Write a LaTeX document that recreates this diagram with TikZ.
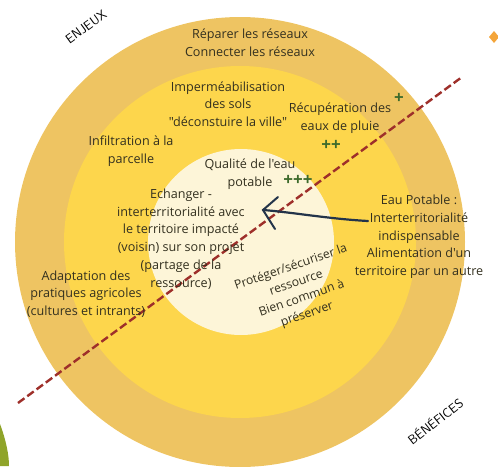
\documentclass[tikz,border=0pt]{standalone}
\usepackage{fontspec}
\setmainfont{Open Sans}[Ligatures=TeXOff]
\usepackage{xcolor}
\definecolor{ringout}{HTML}{EEC462}
\definecolor{ringmid}{HTML}{FDD64C}
\definecolor{ringin}{HTML}{FDF5D8}
\definecolor{inkbrown}{HTML}{33301F}
\definecolor{plusgreen}{HTML}{3E6B2C}
\definecolor{divred}{HTML}{9E2F2A}
\definecolor{arrowink}{HTML}{23344A}
\definecolor{leafgreen}{HTML}{8FA42A}
\definecolor{starorange}{HTML}{F4A53A}

\begin{document}
\begin{tikzpicture}[x=1pt, y=-1pt, thick,
    txt/.style={align=center, text=inkbrown, inner sep=0pt,
      font=\fontsize{12.6}{17.7}\selectfont},
    plus/.style={text=plusgreen, inner sep=0pt, font=\fontsize{17}{17}\selectfont\bfseries},
    hand/.style={text=black, inner sep=0pt, font=\fontsize{13}{13}\selectfont\sffamily}]
    \useasboundingbox (0,0) rectangle (498,466);
    \clip (0,0) rectangle (498,466);
    % Rings
    \fill[ringout] (240,242) circle (225);
    \fill[ringmid] (240,242) circle (176);
    \fill[ringin] (241,242) circle (93);
    % Corner decorations
    \fill[leafgreen] (0,424) .. controls (6,440) and (9,455) .. (9,466) -- (0,466) -- cycle;
    \fill[starorange] (494,31) -- (499,37) -- (494,43) -- (489,37) -- cycle;
    % Divider
    \coordinate (divA) at (18,403);
    \coordinate (divB) at (462,77);
    \draw[divred, line width=2.4pt, dash pattern=on 8pt off 3.5pt] (divA) -- (divB);
    % Side titles
    \node[hand, rotate=36] (enjeux) at (86,27) {ENJEUX};
    \node[hand, rotate=38] (benef) at (435,421) {BÉNÉFICES};
    % Outer ring
    \node[txt] (reseaux) at (250,43) {Réparer les réseaux\\Connecter les réseaux};
    \node[txt] (agri) at (86,294) {Adaptation des\\pratiques agricoles\\(cultures et intrants)};
    \node[txt] (eaupot) at (419,237) {Eau Potable :\\Interterritorialité\\indispensable\\Alimentation d'un\\territoire par un autre};
    % Middle ring
    \node[txt] (imper) at (228,104) {Imperméabilisation\\des sols\\"déconstuire la ville"};
    \node[txt] (recup) at (340,118) {Récupération des\\eaux de pluie};
    \node[txt] (infil) at (131,151) {Infiltration à la\\parcelle};
    \node[plus] (plusA) at (399,98) {+};
    \node[plus] (plusB) at (331,145) {++};
    % Inner disc
    \node[txt] (qualite) at (250,174) {Qualité de l'eau\\potable};
    \node[plus] (plusC) at (298,180) {+++};
    \node[txt] (echange) at (181,239) {Echanger -\\interterritorialité avec\\le territoire impacté\\(voisin) sur son projet\\(partage de la\\ressource)};
    \node[txt, rotate=19, font=\fontsize{12.2}{16.5}\selectfont] (proteger) at (299,291) {Protéger/sécuriser la\\ressource\\Bien commun à\\préserver};
    % Hand drawn arrow
    \coordinate (arrowstart) at (368,221);
    \coordinate (arrowtip) at (263,210);
    \coordinate (tipup) at (278,197);
    \coordinate (tipdown) at (275,229);
    \draw[arrowink, line width=2.2pt, line cap=round] (arrowstart) .. controls (330,219) and (290,212) .. (arrowtip);
    \draw[arrowink, line width=2pt, line cap=round] (tipup) -- (arrowtip) -- (tipdown);
\end{tikzpicture}
\end{document}
